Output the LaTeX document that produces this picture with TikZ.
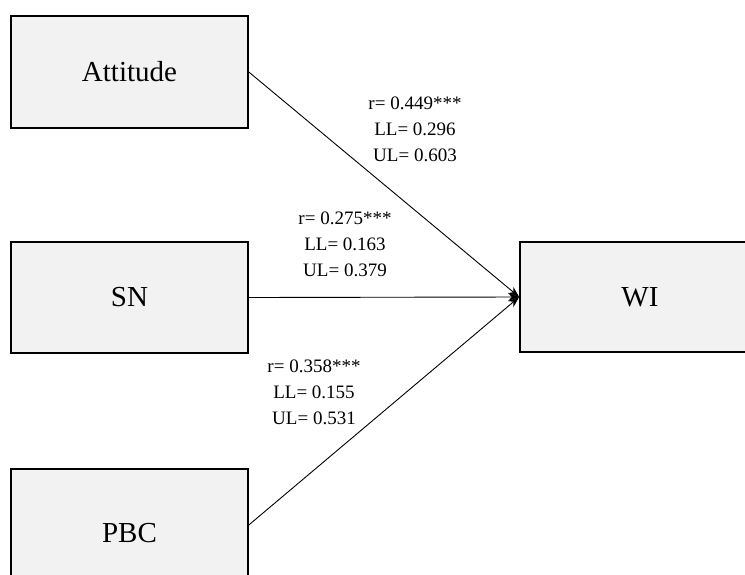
\documentclass[tikz,border=0pt]{standalone}
\usepackage{fontspec}
\setmainfont{Liberation Serif}
\usetikzlibrary{arrows.meta}
\definecolor{boxfill}{HTML}{F2F2F2}
\begin{document}
\begin{tikzpicture}[x=1pt,y=-1pt,
  varbox/.style={draw=black,line width=1.6pt,fill=boxfill,inner sep=0pt},
  lbl/.style={font=\fontsize{19}{26}\selectfont,align=center,inner sep=0pt},
  conn/.style={line width=0.9pt,-{Stealth[length=11pt,width=8pt]}}]
\useasboundingbox (0,0) rectangle (745,574);
\begin{scope}
\clip (0,0) rectangle (745,574);
\node[varbox,minimum width=237pt,minimum height=112pt] (att) at (129.5,72) {\fontsize{29}{34}\selectfont Attitude};
\node[varbox,minimum width=237pt,minimum height=111pt] (sn) at (129.5,297.5) {\fontsize{29}{34}\selectfont SN};
\node[varbox,minimum width=237pt,minimum height=112pt] (pbc) at (129.5,525) {};
\node[varbox,minimum width=240pt,minimum height=110pt] (wi) at (640,297) {\fontsize{29}{34}\selectfont WI};
\end{scope}
\node[font=\fontsize{29}{34}\selectfont] (pbct) at (129.5,533) {PBC};
\draw[conn] (att.east) -- (wi.west);
\draw[conn] (sn.east) -- (wi.west);
\draw[conn] (pbc.east) -- (wi.west);
\node[lbl] (l1) at (415,129) {r= 0.449***\\LL= 0.296\\UL= 0.603};
\node[lbl] (l2) at (345,244) {r= 0.275***\\LL= 0.163\\UL= 0.379};
\node[lbl] (l3) at (314,392) {r= 0.358***\\LL= 0.155\\UL= 0.531};
\end{tikzpicture}
\end{document}
